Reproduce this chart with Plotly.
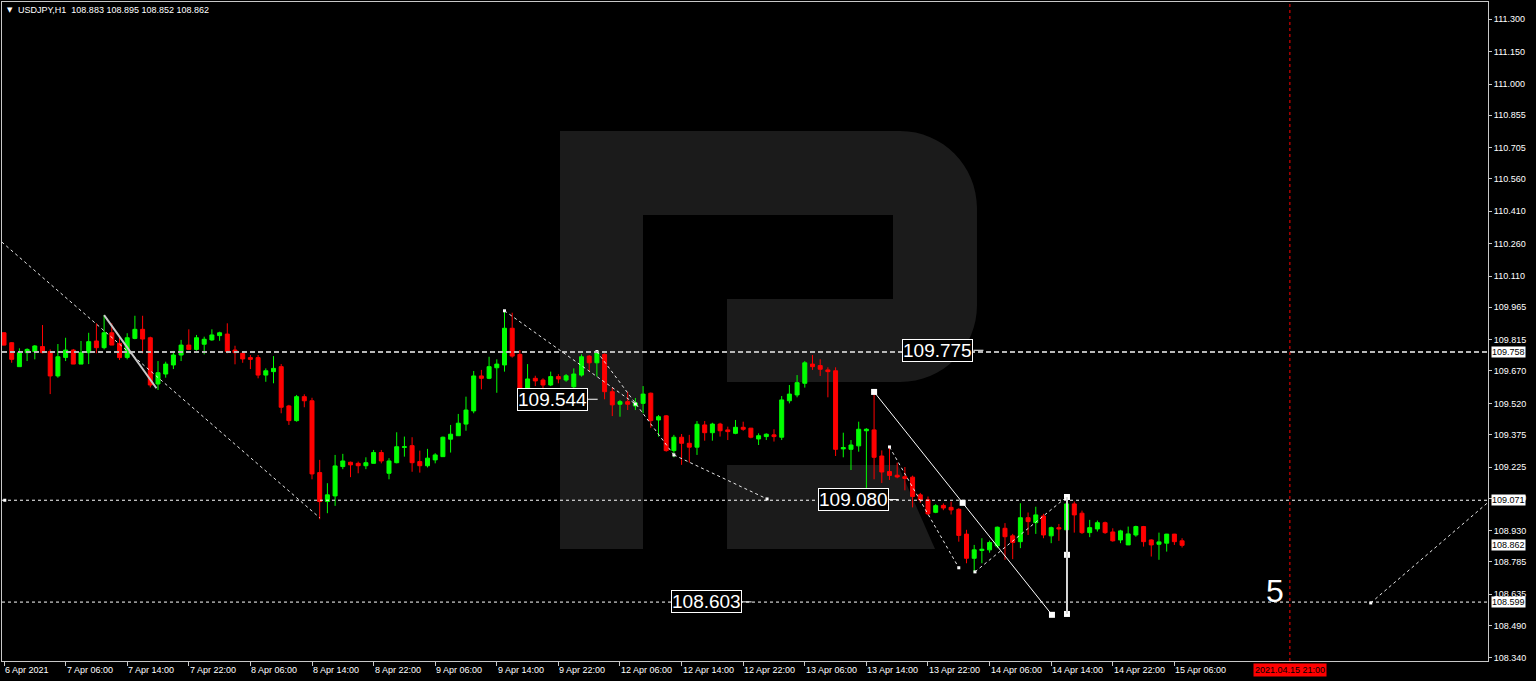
import plotly.graph_objects as go

# ---------------- data ----------------
symbol = "USDJPY,H1"

opens = [109.847, 109.801, 109.690, 109.755, 109.760, 109.783, 109.760, 109.647, 109.733, 109.767,
         109.702, 109.755, 109.809, 109.778, 109.847, 109.798, 109.733, 109.821, 109.863, 109.824,
         109.610, 109.656, 109.698, 109.744, 109.790, 109.770, 109.794, 109.814, 109.834, 109.841,
         109.767, 109.752, 109.732, 109.732, 109.651, 109.667, 109.690, 109.508, 109.440, 109.551,
         109.532, 109.199, 109.065, 109.091, 109.227, 109.247, 109.242, 109.231, 109.242, 109.292,
         109.196, 109.245, 109.316, 109.324, 109.250, 109.231, 109.258, 109.273, 109.354, 109.370,
         109.424, 109.485, 109.647, 109.636, 109.685, 109.698, 109.868, 109.747, 109.585, 109.636,
         109.628, 109.605, 109.644, 109.628, 109.597, 109.651, 109.739, 109.708, 109.747, 109.574,
         109.516, 109.528, 109.508, 109.520, 109.567, 109.443, 109.462, 109.301, 109.363, 109.335,
         109.317, 109.420, 109.384, 109.424, 109.397, 109.381, 109.409, 109.405, 109.355, 109.366,
         109.374, 109.363, 109.532, 109.559, 109.613, 109.702, 109.695, 109.675, 109.671, 109.309,
         109.307, 109.323, 109.393, 109.397, 109.276, 109.204, 109.187, 109.180, 109.178, 109.096,
         109.073, 109.015, 109.047, 109.038, 109.029, 108.914, 108.802, 108.838, 108.841, 108.859,
         108.941, 108.906, 108.879, 108.990, 108.967, 108.998, 108.906, 108.944, 108.934, 109.054,
         109.011, 108.921, 108.938, 108.967, 108.924, 108.887, 108.864, 108.910, 108.949, 108.887,
         108.867, 108.872, 108.914, 108.883]
highs = [109.850, 109.804, 109.775, 109.775, 109.790, 109.883, 109.770, 109.795, 109.824, 109.772,
         109.809, 109.847, 109.891, 109.929, 109.891, 109.824, 109.845, 109.926, 109.926, 109.829,
         109.716, 109.713, 109.763, 109.814, 109.863, 109.837, 109.829, 109.863, 109.852, 109.891,
         109.787, 109.752, 109.744, 109.744, 109.682, 109.739, 109.702, 109.513, 109.559, 109.562,
         109.546, 109.258, 109.150, 109.281, 109.286, 109.250, 109.250, 109.270, 109.304, 109.304,
         109.266, 109.386, 109.366, 109.363, 109.301, 109.309, 109.289, 109.366, 109.420, 109.471,
         109.551, 109.670, 109.675, 109.736, 109.724, 109.949, 109.940, 109.767, 109.702, 109.648,
         109.636, 109.667, 109.655, 109.656, 109.682, 109.747, 109.744, 109.767, 109.752, 109.594,
         109.536, 109.574, 109.545, 109.600, 109.570, 109.466, 109.466, 109.374, 109.378, 109.374,
         109.438, 109.438, 109.430, 109.430, 109.412, 109.443, 109.435, 109.406, 109.381, 109.381,
         109.400, 109.554, 109.605, 109.651, 109.716, 109.744, 109.724, 109.687, 109.687, 109.384,
         109.350, 109.435, 109.405, 109.574, 109.302, 109.320, 109.245, 109.225, 109.185, 109.105,
         109.088, 109.053, 109.056, 109.065, 109.034, 108.934, 108.864, 108.895, 108.884, 108.949,
         108.965, 108.915, 109.057, 109.014, 109.041, 109.008, 108.949, 108.961, 109.088, 109.065,
         109.023, 108.980, 108.977, 108.972, 108.941, 108.934, 108.949, 108.953, 108.952, 108.890,
         108.921, 108.915, 108.915, 108.895]
lows = [109.788, 109.708, 109.690, 109.716, 109.724, 109.752, 109.563, 109.639, 109.716, 109.702,
        109.702, 109.702, 109.752, 109.770, 109.790, 109.721, 109.724, 109.817, 109.752, 109.594,
        109.582, 109.639, 109.679, 109.716, 109.767, 109.764, 109.747, 109.810, 109.810, 109.752,
        109.701, 109.708, 109.679, 109.636, 109.620, 109.613, 109.474, 109.420, 109.435, 109.502,
        109.168, 108.983, 109.011, 109.045, 109.215, 109.178, 109.196, 109.215, 109.242, 109.242,
        109.168, 109.242, 109.273, 109.203, 109.199, 109.223, 109.242, 109.273, 109.292, 109.369,
        109.393, 109.474, 109.585, 109.632, 109.569, 109.667, 109.732, 109.543, 109.569, 109.600,
        109.578, 109.600, 109.613, 109.620, 109.585, 109.644, 109.671, 109.644, 109.539, 109.461,
        109.458, 109.489, 109.489, 109.474, 109.407, 109.366, 109.296, 109.270, 109.235, 109.245,
        109.281, 109.347, 109.347, 109.366, 109.350, 109.377, 109.393, 109.358, 109.327, 109.350,
        109.343, 109.350, 109.520, 109.548, 109.593, 109.675, 109.647, 109.548, 109.276, 109.270,
        109.211, 109.296, 109.119, 109.168, 109.151, 109.165, 109.173, 109.117, 109.038, 109.059,
        109.003, 109.011, 109.025, 109.005, 108.879, 108.779, 108.736, 108.779, 108.828, 108.849,
        108.795, 108.798, 108.849, 108.910, 108.915, 108.895, 108.872, 108.883, 108.926, 108.921,
        108.915, 108.900, 108.926, 108.915, 108.879, 108.872, 108.864, 108.902, 108.856, 108.810,
        108.795, 108.833, 108.864, 108.852]
closes = [109.790, 109.724, 109.755, 109.770, 109.786, 109.755, 109.647, 109.736, 109.767, 109.702,
          109.755, 109.806, 109.778, 109.847, 109.790, 109.732, 109.824, 109.863, 109.818, 109.605,
          109.662, 109.702, 109.744, 109.790, 109.770, 109.824, 109.817, 109.837, 109.847, 109.760,
          109.755, 109.726, 109.724, 109.651, 109.671, 109.682, 109.502, 109.440, 109.551, 109.532,
          109.193, 109.065, 109.096, 109.230, 109.253, 109.235, 109.231, 109.245, 109.292, 109.253,
          109.253, 109.319, 109.319, 109.245, 109.231, 109.266, 109.281, 109.363, 109.377, 109.428,
          109.489, 109.647, 109.636, 109.690, 109.702, 109.868, 109.739, 109.590, 109.633, 109.624,
          109.605, 109.644, 109.633, 109.648, 109.656, 109.736, 109.708, 109.755, 109.574, 109.513,
          109.528, 109.516, 109.522, 109.563, 109.440, 109.458, 109.301, 109.363, 109.335, 109.317,
          109.423, 109.384, 109.424, 109.393, 109.389, 109.409, 109.400, 109.363, 109.370, 109.377,
          109.366, 109.536, 109.563, 109.616, 109.708, 109.690, 109.678, 109.667, 109.307, 109.315,
          109.327, 109.400, 109.400, 109.270, 109.202, 109.186, 109.179, 109.172, 109.088, 109.073,
          109.008, 109.046, 109.035, 109.026, 108.908, 108.802, 108.841, 108.844, 108.875, 108.946,
          108.902, 108.875, 108.990, 108.972, 109.003, 108.910, 108.944, 108.938, 109.054, 109.003,
          108.921, 108.944, 108.967, 108.921, 108.883, 108.929, 108.915, 108.949, 108.879, 108.864,
          108.878, 108.914, 108.879, 108.862]

time_labels = ["6 Apr 2021", "7 Apr 06:00", "7 Apr 14:00", "7 Apr 22:00", "8 Apr 06:00",
               "8 Apr 14:00", "8 Apr 22:00", "9 Apr 06:00", "9 Apr 14:00", "9 Apr 22:00",
               "12 Apr 06:00", "12 Apr 14:00", "12 Apr 22:00", "13 Apr 06:00", "13 Apr 14:00",
               "13 Apr 22:00", "14 Apr 06:00", "14 Apr 14:00", "14 Apr 22:00", "15 Apr 06:00"]
bars_per_label = 8

price_ticks = [111.300, 111.150, 111.000, 110.855, 110.705, 110.560, 110.410, 110.260, 110.110,
               109.965, 109.815, 109.670, 109.520, 109.375, 109.225, 109.080, 108.930, 108.785,
               108.635, 108.490, 108.340]

level_prices = [109.758, 109.071, 108.599]          # horizontal levels (axis labels)
label_texts = ["109.775", "109.544", "109.080", "108.603"]   # price text boxes
separator_bar = 167
separator_text = "2021.04.15 21:00"
wave_text = "5"

# ---------------- layout geometry ----------------
W, H = 1536, 681
ML, MR, MT, MB = 2, 48, 2, 20
PW, PH = W - ML - MR, H - MT - MB
X_RANGE = [-0.26, 192.73]
Y_RANGE = [108.326, 111.380]

def fx(px):
    return (px - ML) / PW

def fy(py):
    return (H - MB - py) / PH

n = len(opens)
bars = list(range(n))

fig = go.Figure()

# watermark "R"
def path(cmds):
    s = []
    for c, pts in cmds:
        if c == "Z":
            s.append("Z")
        else:
            s.append(c + " " + " ".join(f"{fx(x):.5f},{fy(y):.5f}" for x, y in pts))
    return " ".join(s)

R_BODY = [("M", [(560, 131)]), ("L", [(900, 131)]),
          ("C", [(943, 131), (977, 166), (977, 208)]), ("L", [(977, 305)]),
          ("C", [(977, 348), (943, 382), (900, 382)]), ("L", [(727, 382)]),
          ("L", [(727, 299)]), ("L", [(893, 299)]), ("L", [(893, 215)]),
          ("L", [(643, 215)]), ("L", [(643, 549)]), ("L", [(560, 549)]), ("Z", [])]
R_LEG = [("M", [(727, 465)]), ("L", [(898, 465)]), ("L", [(935, 549)]),
         ("L", [(727, 549)]), ("Z", [])]
for p in (R_BODY, R_LEG):
    fig.add_shape(type="path", path=path(p), xref="paper", yref="paper",
                  fillcolor="#1b1b1b", line=dict(width=0), layer="below")

fig.add_trace(go.Candlestick(
    x=bars, open=opens, high=highs, low=lows, close=closes,
    increasing=dict(line=dict(color="#00ff00", width=1), fillcolor="#00ff00"),
    decreasing=dict(line=dict(color="#ff0000", width=1), fillcolor="#ff0000"),
    whiskerwidth=0, showlegend=False, hoverinfo="skip"))

# horizontal levels
level_styles = [dict(color="#b8b8b8", width=2, dash="5px,3px"),
                dict(color="#ffffff", width=1, dash="3px,3px"),
                dict(color="#ffffff", width=1, dash="3px,3px")]
for v, st in zip(level_prices, level_styles):
    fig.add_shape(type="line", xref="paper", x0=0, x1=1, yref="y", y0=v, y1=v, line=st)

# trend / wave drawings (bar index, price)
dotted = dict(color="#e8e8e8", width=1, dash="3px,3px")
drawings = [
    ((-0.3, 110.268), (41.0, 108.990), dotted),
    ((13.0, 109.929), (19.8, 109.590), dict(color="#c8c8c8", width=2)),
    ((65.0, 109.949), (82.0, 109.517), dotted),
    ((77.0, 109.760), (87.0, 109.281), dotted),
    ((87.0, 109.281), (99.1, 109.077), dotted),
    ((113.0, 109.573), (124.5, 109.059), dict(color="#ffffff", width=1)),
    ((124.5, 109.059), (136.1, 108.540), dict(color="#ffffff", width=1)),
    ((138.05, 109.086), (138.05, 108.544), dict(color="#d8d8d8", width=2)),
    ((115.0, 109.318), (124.0, 108.758), dotted),
    ((126.1, 108.739), (138.0, 109.086), dotted),
    ((177.5, 108.595), (192.7, 109.060), dotted),
]
for (x0, y0), (x1, y1), st in drawings:
    fig.add_shape(type="line", xref="x", yref="y", x0=x0, y0=y0, x1=x1, y1=y1, line=st)

anchor_pts = [(113.0, 109.573), (124.5, 109.059), (136.1, 108.540),
              (138.05, 109.086), (138.05, 108.818), (138.05, 108.544)]
fig.add_trace(go.Scatter(x=[p[0] for p in anchor_pts], y=[p[1] for p in anchor_pts],
                         mode="markers", marker=dict(symbol="square", size=6, color="white"),
                         showlegend=False, hoverinfo="skip"))
small_pts = [(65.0, 109.949), (77.0, 109.760), (82.0, 109.517), (87.0, 109.281),
             (99.1, 109.077), (115.0, 109.318), (124.0, 108.758), (126.1, 108.739),
             (177.5, 108.595), (0.1, 109.071)]
fig.add_trace(go.Scatter(x=[p[0] for p in small_pts], y=[p[1] for p in small_pts],
                         mode="markers", marker=dict(symbol="square", size=3, color="white"),
                         showlegend=False, hoverinfo="skip"))

# red period separator
fig.add_shape(type="line", xref="x", x0=separator_bar, x1=separator_bar, yref="paper", y0=0, y1=1,
              line=dict(color="#ff0000", width=1, dash="3px,3px"))

annotations = []
# price text boxes (right edge bar index, price centre)
box_pos = [(125.9, 109.766), (75.8, 109.539), (114.9, 109.074), (95.8, 108.600)]
for t, (bx, by) in zip(label_texts, box_pos):
    annotations.append(dict(x=bx, y=by, xref="x", yref="y", xanchor="right", yanchor="middle",
                            text=t, showarrow=False, bgcolor="#000000", bordercolor="#ffffff",
                            borderwidth=1, borderpad=0,
                            font=dict(family="Liberation Sans", size=19, color="#ffffff")))
    fig.add_shape(type="line", xref="x", yref="y", x0=bx, x1=bx + 1.3, y0=by, y1=by,
                  line=dict(color="#ffffff", width=1))

annotations.append(dict(x=165.1, y=108.652, xref="x", yref="y", text=wave_text, showarrow=False,
                        font=dict(family="Liberation Sans", size=32, color="#ffffff")))

# time axis labels
for k, t in enumerate(time_labels):
    annotations.append(dict(x=k * bars_per_label, y=0, xref="x", yref="paper", xanchor="left",
                            yanchor="top", yshift=-2, xshift=-1, text=t, showarrow=False,
                            font=dict(family="Liberation Sans", size=9, color="#ffffff")))
annotations.append(dict(x=separator_bar, y=0, xref="x", yref="paper", xanchor="center",
                        yanchor="top", yshift=-2, text=separator_text, showarrow=False,
                        bgcolor="#ff0000", borderpad=1,
                        font=dict(family="Liberation Sans", size=9, color="#000000")))

# price axis boxes
for v in level_prices + [closes[-1]]:
    annotations.append(dict(x=1, y=v, xref="paper", yref="y", xanchor="left", yanchor="middle",
                            xshift=3, text=f"{v:.3f}", showarrow=False, bgcolor="#ffffff",
                            borderpad=0,
                            font=dict(family="Liberation Sans", size=9, color="#000000")))

# title
annotations.append(dict(x=fx(5), y=fy(10), xref="paper", yref="paper", xanchor="left",
                        yanchor="middle", text="▼", showarrow=False,
                        font=dict(family="DejaVu Sans", size=7, color="#ffffff")))
annotations.append(dict(x=fx(16), y=fy(10), xref="paper", yref="paper", xanchor="left",
                        yanchor="middle", showarrow=False,
                        text=f"{symbol}&nbsp;&nbsp;{opens[-1]:.3f} {highs[-1]:.3f} {lows[-1]:.3f} {closes[-1]:.3f}",
                        font=dict(family="Liberation Sans", size=9, color="#ffffff")))

axis_col = "#c8c8c8"
fig.update_layout(
    width=W, height=H, margin=dict(l=ML, r=MR, t=MT, b=MB),
    paper_bgcolor="#000000", plot_bgcolor="#000000",
    boxgap=0.28, boxgroupgap=0.28,
    showlegend=False, annotations=annotations,
    xaxis=dict(range=X_RANGE, tickvals=[k * bars_per_label for k in range(len(time_labels))],
               showticklabels=False, ticks="outside", ticklen=4, tickcolor=axis_col,
               showgrid=False, zeroline=False, showline=True, linecolor=axis_col, linewidth=1,
               mirror=True, rangeslider=dict(visible=False), fixedrange=True),
    yaxis=dict(range=Y_RANGE, side="right", tickvals=price_ticks,
               ticktext=[f"{v:.3f}" for v in price_ticks], ticks="outside", ticklen=3,
               tickcolor=axis_col, tickfont=dict(family="Liberation Sans", size=9, color="#ffffff"),
               showgrid=False, zeroline=False, showline=True, linecolor=axis_col, linewidth=1,
               mirror=True, fixedrange=True),
)

fig.write_html("out.html", config={"displayModeBar": False},
               post_script="document.body.style.margin='0';document.body.style.overflow='hidden';"
                           "document.body.style.background='#000';")
